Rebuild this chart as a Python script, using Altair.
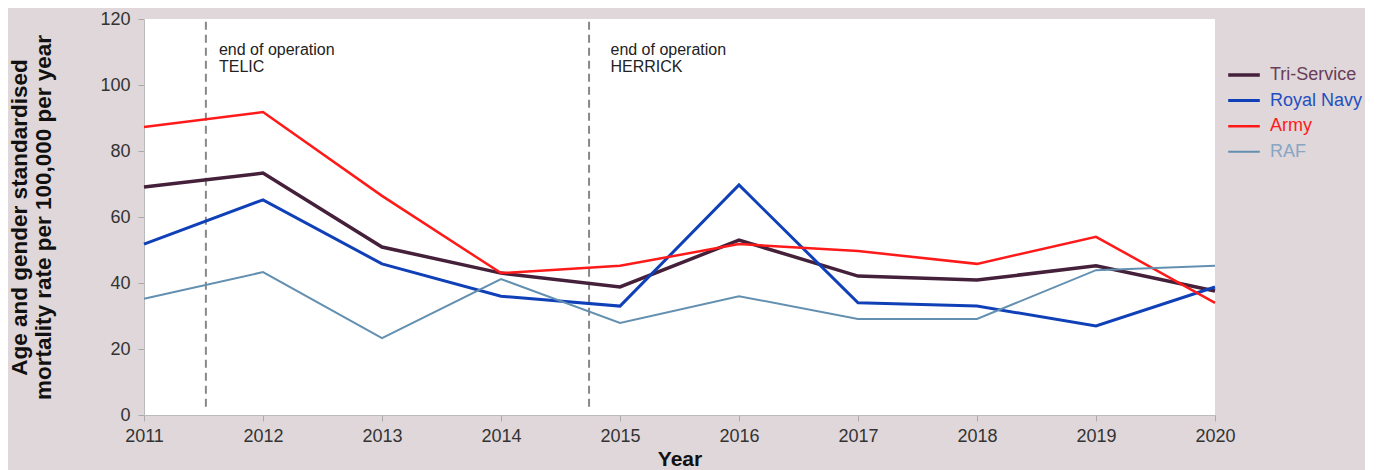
import altair as alt
import pandas as pd

years = [2011, 2012, 2013, 2014, 2015, 2016, 2017, 2018, 2019, 2020]
tri_service = [69.1, 73.3, 50.9, 43.0, 38.8, 53.0, 42.1, 40.9, 45.2, 37.6]
royal_navy = [51.8, 65.2, 45.8, 36.0, 33.0, 69.7, 34.0, 33.0, 27.0, 38.8]
army = [87.3, 91.8, 66.4, 43.0, 45.2, 51.8, 49.7, 45.8, 54.0, 34.0]
raf = [35.2, 43.3, 23.3, 41.2, 27.9, 36.0, 29.1, 29.1, 43.9, 45.2]

series_names = ["Tri-Service", "Royal Navy", "Army", "RAF"]
series_colors = ["#45203a", "#1040b8", "#ff1a1a", "#6390b0"]
label_colors = ["#6a3d58", "#1f4fc0", "#ff1a1a", "#86a6c4"]
series_widths = [3.5, 2, 2, 2]

event_years = [2011.52, 2014.74]
event_labels = [["end of operation", "TELIC"], ["end of operation", "HERRICK"]]
label_x = [2011.63, 2014.92]

FONT = "Liberation Sans"

rows = []
for name, vals in zip(series_names, [tri_service, royal_navy, army, raf]):
    for y, v in zip(years, vals):
        rows.append({"Year": y, "value": v, "series": name})
df = pd.DataFrame(rows)

ev = pd.DataFrame({"x": event_years, "y0": [2.5, 2.5], "y1": [120, 120]})
lab = pd.DataFrame({"x": label_x, "y": [113.0, 113.0], "text": event_labels})

xscale = alt.Scale(domain=[2011, 2020], nice=False)
yscale = alt.Scale(domain=[0, 120], nice=False)

label_color_expr = " : ".join(
    f"datum.value == '{n}' ? '{c}'" for n, c in zip(series_names[:-1], label_colors[:-1])
) + f" : '{label_colors[-1]}'"
width_expr = " : ".join(
    f"datum.value == '{n}' ? {w}" for n, w in zip(series_names[:-1], series_widths[:-1])
) + f" : {series_widths[-1]}"

lines = alt.Chart(df).mark_line().encode(
    x=alt.X("Year:Q", scale=xscale,
            axis=alt.Axis(values=years, format="d", title="Year", grid=False,
                          labelFont=FONT, labelFontSize=18, labelColor="#333333",
                          labelFlush=False, labelOverlap=False,
                          titleFont=FONT, titleFontSize=21, titleFontWeight="bold",
                          titleColor="#111111", titlePadding=3, labelPadding=6,
                          tickColor="#aaaaaa", domainColor="#bbbbbb", tickSize=6)),
    y=alt.Y("value:Q", scale=yscale,
            axis=alt.Axis(values=[0, 20, 40, 60, 80, 100, 120], grid=False,
                          title=["Age and gender standardised", "mortality rate per 100,000 per year"],
                          labelFont=FONT, labelFontSize=18, labelColor="#333333",
                          titleFont=FONT, titleFontSize=22.5, titleFontWeight="bold",
                          titleColor="#111111", titlePadding=44, labelPadding=8,
                          titleLineHeight=24,
                          tickColor="#aaaaaa", domainColor="#bbbbbb", tickSize=6)),
    color=alt.Color("series:N", sort=series_names,
                    scale=alt.Scale(domain=series_names, range=series_colors),
                    legend=alt.Legend(title=None, orient="none", legendX=1082, legendY=46,
                                      symbolType="stroke", symbolSize=1000,
                                      symbolStrokeWidth={"expr": width_expr},
                                      clipHeight=20, rowPadding=5.6,
                                      labelFont=FONT, labelFontSize=18,
                                      labelColor={"expr": label_color_expr},
                                      labelOffset=8)),
    strokeWidth=alt.StrokeWidth("series:N",
                                scale=alt.Scale(domain=series_names, range=series_widths),
                                legend=None),
    order=alt.Order("Year:Q"),
)

rules = alt.Chart(ev).mark_rule(color="#888888", strokeWidth=2, strokeDash=[8, 5]).encode(
    x=alt.X("x:Q", scale=xscale), y=alt.Y("y0:Q", scale=yscale), y2="y1:Q"
)

texts = alt.Chart(lab).mark_text(align="left", baseline="top", font=FONT, fontSize=16,
                                 color="#222222", lineHeight=17).encode(
    x=alt.X("x:Q", scale=xscale), y=alt.Y("y:Q", scale=yscale), text="text"
)

chart = alt.layer(rules, lines, texts).properties(
    width=1071, height=396,
    autosize=alt.AutoSizeParams(type="none"),
    padding={"left": 136, "top": 11, "right": 150, "bottom": 55},
    background="#dfd7d9",
).configure_view(fill="white", stroke=None)

chart.save("out.html", embed_options={"renderer": "svg", "actions": False})
